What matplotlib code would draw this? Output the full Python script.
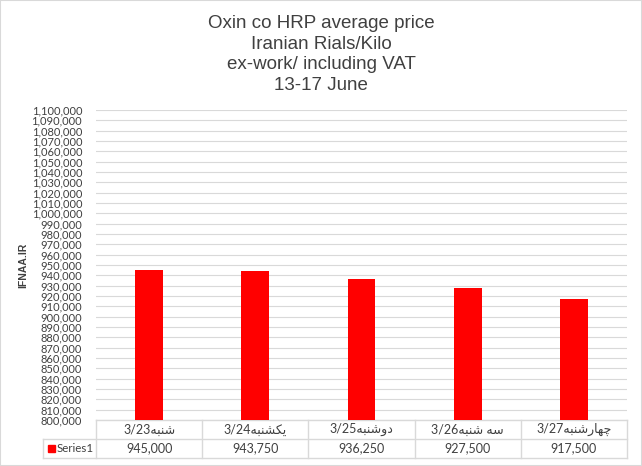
import matplotlib
matplotlib.use("Agg")
import matplotlib.pyplot as plt
from matplotlib.patches import Rectangle
from matplotlib.ticker import FuncFormatter, MultipleLocator

# data
days = ['شنبه', 'یکشنبه', 'دوشنبه', 'سه شنبه', 'چهارشنبه']
dates = ['3/23', '3/24', '3/25', '3/26', '3/27']
prices = [945000, 943750, 936250, 927500, 917500]
series_name = 'Series1'

title = 'Oxin co HRP average price\nIranian Rials/Kilo\nex-work/ including VAT\n13-17 June'

# matplotlib has no arabic shaping, so pick presentation forms by hand
DUAL = {  # isolated, final, initial, medial
    'ش': '\uFEB5\uFEB6\uFEB7\uFEB8',
    'ن': '\uFEE5\uFEE6\uFEE7\uFEE8',
    'ب': '\uFE8F\uFE90\uFE91\uFE92',
    'ه': '\uFEE9\uFEEA\uFEEB\uFEEC',
    'ی': '\uFBFC\uFBFD\uFBFE\uFBFF',
    'ک': '\uFB8E\uFB8F\uFB90\uFB91',
    'س': '\uFEB1\uFEB2\uFEB3\uFEB4',
    'چ': '\uFB7A\uFB7B\uFB7C\uFB7D',
}
RIGHT = {  # isolated, final
    'د': '\uFEA9\uFEAA',
    'و': '\uFEED\uFEEE',
    'ا': '\uFE8D\uFE8E',
    'ر': '\uFEAD\uFEAE',
}


def shape(word):
    out = []
    for i, ch in enumerate(word):
        prev = word[i - 1] if i > 0 else ''
        nxt = word[i + 1] if i + 1 < len(word) else ''
        jp = prev in DUAL
        if ch in RIGHT:
            out.append(RIGHT[ch][1 if jp else 0])
        elif ch in DUAL:
            jn = nxt in DUAL or nxt in RIGHT
            f = DUAL[ch]
            out.append(f[3] if jp and jn else f[1] if jp else f[2] if jn else f[0])
        else:
            out.append(ch)
    return ''.join(reversed(out))


labels = [d + shape(w) for w, d in zip(days, dates)]

fig = plt.figure(figsize=(6.42, 4.66), dpi=100)
fig.patches.append(Rectangle((0, 0), 1, 1, transform=fig.transFigure,
                             fill=False, edgecolor='#d9d9d9', lw=1.5))

W, H = 531, 310  # plot area in pixels
ax = fig.add_axes([96 / 642, 1 - 420 / 466, W / 642, H / 466])
x = range(len(prices))
ax.bar(x, prices, width=0.26, color='#ff0000', zorder=3)
ax.set_xlim(-0.5, len(prices) - 0.5)
ax.set_ylim(800000, 1100000)
ax.yaxis.set_major_locator(MultipleLocator(10000))
ax.yaxis.set_major_formatter(FuncFormatter(lambda v, p: f'{v:,.0f}'))
ax.grid(axis='y', color='#d9d9d9', lw=0.8, zorder=0)
ax.set_xticks([])
for s in ax.spines.values():
    s.set_visible(False)
ax.tick_params(axis='y', length=0, pad=10, labelsize=8, labelcolor='#404040')
for t in ax.get_yticklabels():
    t.set_family('Lato')
ax.set_ylabel('IFNAA.IR', fontsize=7.5, fontweight='bold', color='#404040',
              family='Liberation Sans', labelpad=2)

fig.text(0.5, 1 - 15 / 466, title, ha='center', va='top', fontsize=13.5,
         color='#404040', family='Liberation Sans', linespacing=1.28)

# data table under the plot, drawn in axes coordinates
rowh = 19 / H
lblw = 53 / W
colw = 1 / len(prices)
grid_kw = dict(color='#d9d9d9', lw=1, transform=ax.transAxes, clip_on=False)
ax.plot([0, 1], [0, 0], **grid_kw)
ax.plot([-lblw, 1], [-rowh, -rowh], **grid_kw)
ax.plot([-lblw, 1], [-2 * rowh, -2 * rowh], **grid_kw)
ax.plot([-lblw, -lblw], [-rowh, -2 * rowh], **grid_kw)
for c in range(len(prices) + 1):
    ax.plot([c * colw, c * colw], [0, -2 * rowh], **grid_kw)
for c, lab in enumerate(labels):
    ax.text((c + 0.5) * colw, -0.5 * rowh, lab, transform=ax.transAxes,
            ha='center', va='center', fontsize=9, color='#404040',
            family=['Lato', 'DejaVu Sans'])
    ax.text((c + 0.5) * colw, -1.5 * rowh, f'{prices[c]:,}', transform=ax.transAxes,
            ha='center', va='center', fontsize=9, color='#404040', family='Lato')

ax.add_patch(Rectangle((-48 / W, -1.5 * rowh - 3.5 / H), 7 / W, 7 / H,
                       transform=ax.transAxes, color='#ff0000', clip_on=False))
ax.text(-39 / W, -1.5 * rowh, series_name, transform=ax.transAxes,
        ha='left', va='center', fontsize=8.3, color='#404040', family='Lato')

fig.savefig('out.png', dpi=100)
